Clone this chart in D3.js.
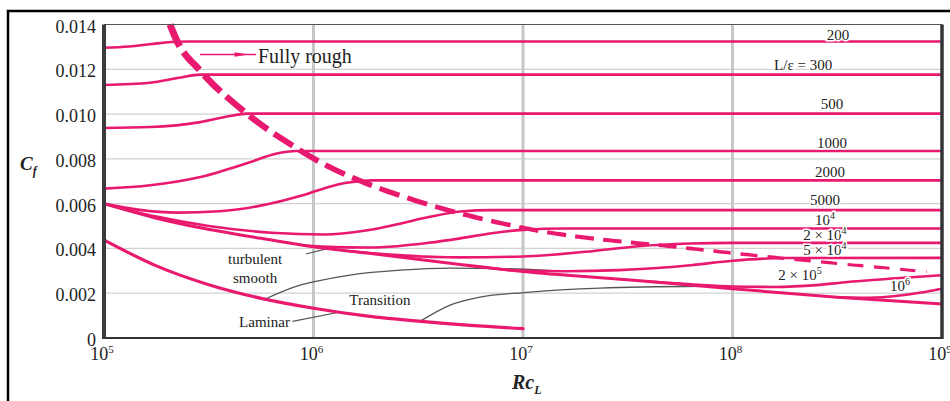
<!DOCTYPE html>
<html>
<head>
<meta charset="utf-8">
<script src="https://cdn.jsdelivr.net/npm/d3@7"></script>
<style>
  body { margin: 0; background: #fff; }
  text { font-family: "Liberation Serif", "DejaVu Serif", serif; fill: #222; }
</style>
</head>
<body>
<svg id="chart" width="950" height="401"></svg>
<script>
// Skin friction coefficient vs Reynolds number (flat plate)
// every curve is a list of [log10(Re), Cf x 1000]

const yTicks = [0, 0.002, 0.004, 0.006, 0.008, 0.010, 0.012, 0.014];
const xDecades = [5, 6, 7, 8, 9];

const laminar = [[5.01, 4.33], [5.25, 3.22], [5.5, 2.38], [5.75, 1.77], [6.0, 1.33],
  [6.25, 0.99], [6.5, 0.75], [6.75, 0.56], [7.0, 0.42]];

const smooth = [[5.0, 6.0], [5.25, 5.35], [5.46, 4.92], [5.75, 4.45], [6.0, 4.07],
  [6.2, 3.85], [6.41, 3.62], [6.7, 3.28], [7.0, 2.97], [7.5, 2.6], [8.0, 2.2],
  [8.5, 1.82], [9.0, 1.52]];

// L/eps curves, they leave the smooth curve and end on a flat (fully rough) value
const curve200 = [[5.0, 12.96], [5.12, 13.02], [5.22, 13.12], [5.32, 13.22], [5.4, 13.24], [9, 13.24]];
const curve300 = [[5.0, 11.3], [5.22, 11.4], [5.36, 11.62], [5.46, 11.76], [9, 11.76]];
const curve500 = [[5.0, 9.38], [5.22, 9.42], [5.46, 9.64], [5.6, 9.91], [5.68, 10.02], [9, 10.02]];
const curve1000 = [[5.0, 6.67], [5.22, 6.82], [5.46, 7.19], [5.7, 7.86], [5.82, 8.23], [5.92, 8.35], [9, 8.35]];
const curve2000 = [[5.0, 6.0], [5.17, 5.72], [5.35, 5.6], [5.55, 5.66], [5.78, 5.97], [5.94, 6.35],
  [6.05, 6.68], [6.15, 6.92], [6.28, 7.04], [9, 7.04]];
const curve5000 = [[5.0, 6.0], [5.25, 5.42], [5.5, 5.0], [5.8, 4.7], [6.05, 4.62], [6.25, 4.8],
  [6.4, 5.08], [6.55, 5.4], [6.7, 5.65], [6.85, 5.71], [9, 5.71]];
const curve1e4 = [[5.95, 4.13], [6.1, 4.06], [6.25, 4.04], [6.4, 4.1], [6.55, 4.25], [6.7, 4.45],
  [6.85, 4.68], [7.0, 4.83], [7.2, 4.89], [9, 4.89]];
const curve2e4 = [[6.2, 3.85], [6.4, 3.7], [6.7, 3.6], [7.0, 3.64], [7.3, 3.85], [7.55, 4.1],
  [7.8, 4.22], [8.0, 4.25], [9, 4.25]];
const curve5e4 = [[6.8, 3.17], [7.0, 3.0], [7.2, 2.98], [7.46, 3.03], [7.8, 3.25], [8.0, 3.45],
  [8.25, 3.57], [9, 3.58]];
const curve2e5 = [[7.6, 2.52], [7.8, 2.4], [8.0, 2.3], [8.2, 2.28], [8.4, 2.36], [8.55, 2.5],
  [8.8, 2.68], [9.0, 2.8]];
const curve1e6 = [[8.5, 1.82], [8.65, 1.8], [8.8, 1.9], [8.9, 2.03], [9.0, 2.2]];

// dashed boundary of the fully rough region
const roughLimit = [[5.315, 14.0], [5.347, 13.29], [5.458, 11.95], [5.663, 10.16], [5.936, 8.38],
  [6.015, 7.94], [6.254, 6.9], [6.46, 6.22], [7.0, 4.92], [7.797, 4.0], [8.927, 2.96]];

// grey transition lines
const transition1 = [[5.77, 1.74], [5.936, 2.36], [6.017, 2.54], [6.174, 2.81], [6.413, 3.03],
  [6.652, 3.12], [6.89, 3.1], [7.177, 2.99]];
const transition2 = [[6.508, 0.74], [6.652, 1.47], [6.795, 1.83], [7.005, 2.03], [7.368, 2.23], [7.85, 2.31]];
const turbLeader = [[5.964, 3.75], [6.06, 3.98]];
const lamLeader = [[5.9, 0.74], [6.127, 1.16]];
const roughArrow = [[5.458, 12.66], [5.725, 12.66]];

// labels: text, superscript, log10(Re) of centre, Cf x 1000 of baseline
const curveLabels = [
  ["200", "", 8.504, 13.33], ["L/\u03b5 = 300", "", 8.337, 11.95], ["500", "", 8.475, 10.21],
  ["1000", "", 8.475, 8.47], ["2000", "", 8.465, 7.2], ["5000", "", 8.441, 5.93],
  ["10", "4", 8.441, 5.04], ["2 \u00d7 10", "4", 8.441, 4.37], ["5 \u00d7 10", "4", 8.441, 3.7],
  ["2 \u00d7 10", "5", 8.322, 2.59], ["10", "6", 8.8, 2.1]
];
const noteLabels = [
  ["turbulent", 5.721, 3.3], ["smooth", 5.721, 2.45], ["Transition", 6.317, 1.47], ["Laminar", 5.766, 0.51]
];

const PINK = "#e8196f";

const svg = d3.select("#chart");
const x = d3.scaleLog().domain([1e5, 1e9]).range([104, 942]);
const y = d3.scaleLinear().domain([0, 0.014]).range([338, 24.5]);
const px = d => x(10 ** d[0]);
const py = d => y(d[1] / 1000);
const line = d3.line().x(px).y(py).curve(d3.curveMonotoneX);
const straight = d3.line().x(px).y(py);

// outer frame
svg.append("path")
  .attr("d", "M8,401V11H950")
  .attr("fill", "none").attr("stroke", "#000").attr("stroke-width", 2.5);

// grid
svg.selectAll(".hgrid").data(yTicks.slice(1, -1)).join("line")
  .attr("x1", x(1e5)).attr("x2", x(1e9))
  .attr("y1", d => y(d)).attr("y2", d => y(d))
  .attr("stroke", "#d2d2d2").attr("stroke-width", 1.3);
svg.selectAll(".vgrid").data(xDecades.slice(1, -1)).join("line")
  .attr("x1", d => x(10 ** d)).attr("x2", d => x(10 ** d))
  .attr("y1", y(0.014)).attr("y2", y(0))
  .attr("stroke", "#c6c6c6").attr("stroke-width", 3);

// grey transition lines and leaders
[transition1, transition2].forEach(c => {
  svg.append("path").attr("d", line(c))
    .attr("fill", "none").attr("stroke", "#555").attr("stroke-width", 1.3);
});
[turbLeader, lamLeader].forEach(c => {
  svg.append("path").attr("d", straight(c))
    .attr("fill", "none").attr("stroke", "#555").attr("stroke-width", 1.2);
});

// pink curves
const roughCurves = [curve200, curve300, curve500, curve1000, curve2000, curve5000,
  curve1e4, curve2e4, curve5e4, curve2e5, curve1e6];
roughCurves.forEach(c => {
  svg.append("path").attr("d", line(c))
    .attr("fill", "none").attr("stroke", PINK).attr("stroke-width", 2.6);
});
svg.append("path").attr("d", line(smooth))
  .attr("fill", "none").attr("stroke", PINK).attr("stroke-width", 3);
svg.append("path").attr("d", line(laminar))
  .attr("fill", "none").attr("stroke", PINK).attr("stroke-width", 3.2)
  .attr("stroke-linecap", "round");

// dashed fully-rough limit, dashes get thinner and shorter to the right
const guide = svg.append("path").attr("d", line(roughLimit))
  .attr("fill", "none").attr("stroke", "none").node();
const total = guide.getTotalLength();
let s = 0;
while (s < total) {
  const t = s / total;
  const dash = 24 - 9 * t, gap = 7 + 4 * t;
  const w = 3 + 4 * Math.pow(1 - t, 1.5);
  const pts = d3.range(7).map(i => {
    const p = guide.getPointAtLength(Math.min(total, s + dash * i / 6));
    return [p.x, p.y];
  });
  svg.append("path").attr("d", d3.line()(pts))
    .attr("fill", "none").attr("stroke", PINK).attr("stroke-width", w);
  s += dash + gap;
}

// arrow to "Fully rough"
svg.append("path").attr("d", straight(roughArrow))
  .attr("fill", "none").attr("stroke", PINK).attr("stroke-width", 1.6);
const ax = x(10 ** 5.69), ay = py(roughArrow[0]);
svg.append("path")
  .attr("d", `M${ax - 14},${ay - 2.2}L${ax},${ay}L${ax - 14},${ay + 2.2}Z`)
  .attr("fill", PINK);
svg.append("text")
  .attr("x", x(10 ** 5.735)).attr("y", y(12.3 / 1000))
  .attr("font-size", 20).text("Fully rough");

// axes
svg.append("line").attr("x1", x(1e5)).attr("x2", x(1e9)).attr("y1", y(0.014)).attr("y2", y(0.014))
  .attr("stroke", "#555").attr("stroke-width", 1);
svg.append("line").attr("x1", x(1e5)).attr("x2", x(1e9)).attr("y1", y(0)).attr("y2", y(0))
  .attr("stroke", "#333").attr("stroke-width", 1.8);
svg.append("line").attr("x1", x(1e5)).attr("x2", x(1e5)).attr("y1", y(0.014)).attr("y2", y(0) + 1)
  .attr("stroke", "#3a3a3a").attr("stroke-width", 4);
svg.append("line").attr("x1", x(1e9)).attr("x2", x(1e9)).attr("y1", y(0.014)).attr("y2", y(0) + 1)
  .attr("stroke", "#333").attr("stroke-width", 3.5);

// tick labels
svg.selectAll(".ylab").data(yTicks).join("text")
  .attr("x", 96).attr("y", d => y(d) + 8)
  .attr("text-anchor", "end").attr("font-size", 18)
  .text(d => d === 0 ? "0" : d3.format(".3f")(d));
xDecades.forEach(e => {
  const t = svg.append("text")
    .attr("x", x(10 ** e) - 2).attr("y", 360)
    .attr("text-anchor", "middle").attr("font-size", 18);
  t.append("tspan").text("10");
  t.append("tspan").attr("dy", -7).attr("font-size", 11).text(e);
});

// axis titles
const yt = svg.append("text").attr("x", 20).attr("y", 170)
  .attr("font-size", 19).attr("font-weight", "bold").attr("font-style", "italic");
yt.append("tspan").text("C");
yt.append("tspan").attr("dy", 5).attr("font-size", 12).text("f");
const xt = svg.append("text").attr("x", 512).attr("y", 389)
  .attr("font-size", 20).attr("font-weight", "bold").attr("font-style", "italic");
xt.append("tspan").text("Rc");
xt.append("tspan").attr("dy", 5).attr("font-size", 12).text("L");

// curve labels with white knock-out
curveLabels.forEach(([txt, sup, lg, cf]) => {
  const t = svg.append("text")
    .attr("x", x(10 ** lg)).attr("y", y(cf / 1000))
    .attr("text-anchor", "middle").attr("font-size", 15)
    .attr("stroke", "#fff").attr("stroke-width", 3).attr("paint-order", "stroke");
  t.append("tspan").text(txt);
  if (sup) t.append("tspan").attr("dy", -6).attr("font-size", 10).text(sup);
});

noteLabels.forEach(([txt, lg, cf]) => {
  svg.append("text")
    .attr("x", x(10 ** lg)).attr("y", y(cf / 1000))
    .attr("text-anchor", "middle").attr("font-size", 15)
    .attr("stroke", "#fff").attr("stroke-width", 2).attr("paint-order", "stroke")
    .text(txt);
});
</script>
</body>
</html>
